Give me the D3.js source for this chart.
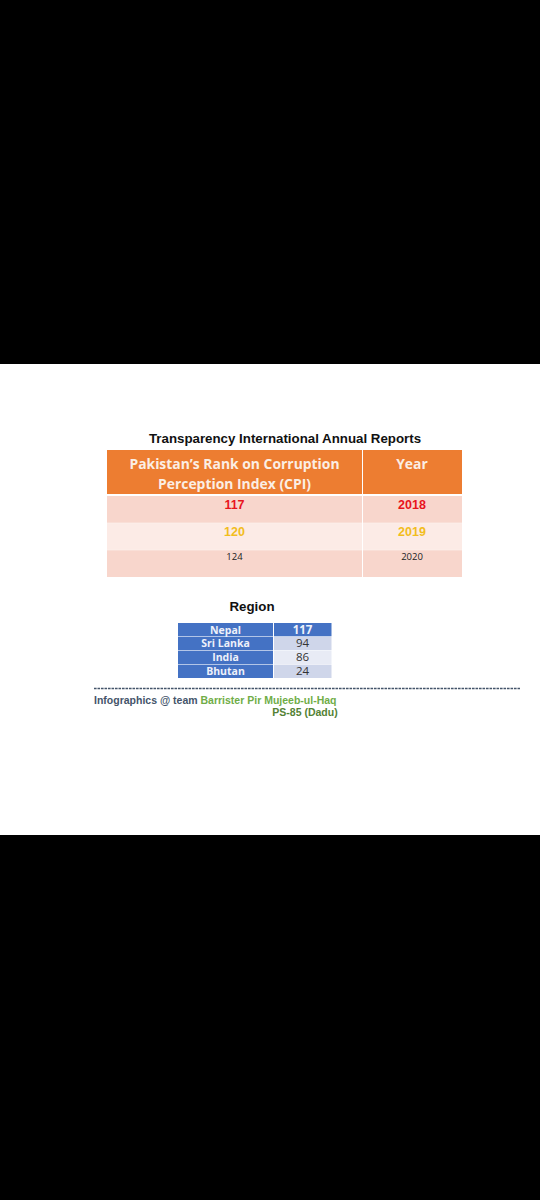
<!DOCTYPE html>
<html><head><meta charset="utf-8">
<script src="https://cdn.jsdelivr.net/npm/d3@7"></script>
<style>html,body{margin:0;padding:0;background:#000}svg{display:block}</style>
</head><body><svg id="c" width="540" height="1200"></svg>
<script>
const title = "Transparency International Annual Reports";
const headerLines = ["Pakistan’s Rank on Corruption", "Perception Index (CPI)"];
const headerYear = "Year";
const ranks = [117, 120, 124];
const years = ["2018", "2019", "2020"];
const regionTitle = "Region";
const countries = ["Nepal", "Sri Lanka", "India", "Bhutan"];
const regionValues = [117, 94, 86, 24];
const rankColors = ["#e8141c", "#f2bd1d", "#222222"];
const rowFills = ["#f8d6cc", "#fcebe6", "#f8d6cc"];
const regionFills = ["#4472c4", "#cfd6ea", "#e8ebf5", "#cfd6ea"];
const sans = "'Liberation Sans',Arial,sans-serif";
const body = "'Open Sans','Noto Sans',sans-serif";

const svg = d3.select("#c");
svg.append("rect").attr("y", 364).attr("width", 540).attr("height", 471).attr("fill", "#fff");

function label(x, y, s, size, fill, weight, font, anchor) {
  return svg.append("text").attr("x", x).attr("y", y).text(s)
    .attr("font-size", size).attr("fill", fill).attr("font-weight", weight || "normal")
    .attr("font-family", font || sans).attr("text-anchor", anchor || "middle");
}

label(285, 443, title, 13.3, "#111", "bold");

// Main table
const colX = d3.scaleOrdinal().domain(["rank", "year"]).range([107, 363]);
const colW = d3.scaleOrdinal().domain(["rank", "year"]).range([255, 99]);
const rowY = d3.scaleBand().domain(d3.range(ranks.length)).range([496, 577]).paddingInner(0.012);
const cols = ["rank", "year"];

cols.forEach(c => svg.append("rect").attr("x", colX(c)).attr("y", 450)
  .attr("width", colW(c)).attr("height", 44).attr("fill", "#ed7d31"));
label(234.5, 469, headerLines[0], 13.9, "#fbeee4", "bold", body);
label(234.5, 489, headerLines[1], 13.9, "#fbeee4", "bold", body);
label(412, 469, headerYear, 13.9, "#fbeee4", "bold", body);

cols.forEach(c => svg.append("g").selectAll("rect").data(d3.range(ranks.length)).join("rect")
  .attr("x", colX(c)).attr("y", i => rowY(i)).attr("width", colW(c))
  .attr("height", rowY.bandwidth()).attr("fill", i => rowFills[i])
);
ranks.forEach((r, i) => {
  const bold = i < 2;
  const y = rowY(i) + (bold ? 13 : 10);
  label(234.5, y, r, bold ? 12.5 : 9.5, rankColors[i], bold ? "bold" : "normal", bold ? sans : body);
  label(412, y, years[i], bold ? 12.5 : 9.5, rankColors[i], bold ? "bold" : "normal", bold ? sans : body);
});

// Region table
label(252, 611, regionTitle, 13.3, "#111", "bold");
const regY = d3.scaleBand().domain(countries).range([623, 678]).paddingInner(0.04);
const g = svg.append("g");
g.selectAll("rect.n").data(countries).join("rect").attr("class", "n")
  .attr("x", 178).attr("y", d => regY(d)).attr("width", 95).attr("height", regY.bandwidth()).attr("fill", "#4472c4");
g.selectAll("rect.v").data(countries).join("rect").attr("class", "v")
  .attr("x", 274).attr("y", d => regY(d)).attr("width", 57.5).attr("height", regY.bandwidth())
  .attr("fill", (d, i) => regionFills[i]);
countries.forEach((c, i) => {
  const y = regY(c) + regY.bandwidth() / 2 + 3.9;
  label(225.5, y, c, 10.5, "#eef1fa", "bold", body);
  label(302.5, y, regionValues[i], 11.5, i === 0 ? "#eef1fa" : "#333", i === 0 ? "bold" : "normal", body);
});

// Separator and credits
svg.append("line").attr("x1", 94).attr("x2", 520).attr("y1", 688.5).attr("y2", 688.5)
  .attr("stroke", "#44546a").attr("stroke-width", 1.6).attr("stroke-dasharray", "2.6 0.9");
const t = svg.append("text").attr("x", 94).attr("y", 704).attr("font-size", 10.5)
  .attr("font-weight", "bold").attr("font-family", sans);
t.append("tspan").attr("fill", "#44546a").text("Infographics @ team ");
t.append("tspan").attr("fill", "#70ad47").text("Barrister Pir Mujeeb-ul-Haq");
label(305, 716, "PS-85 (Dadu)", 10.5, "#548235", "bold");
</script></body></html>
